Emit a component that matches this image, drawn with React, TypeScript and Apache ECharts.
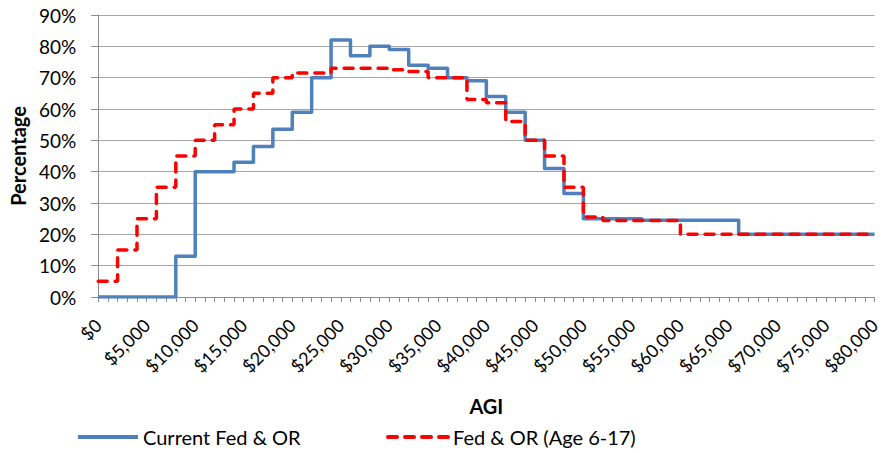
import React, { useEffect, useRef } from "react";
import * as echarts from "echarts";

const currentSteps: [number, number][] = [
  [0, 0], [8000, 13], [10000, 40], [14000, 43], [16000, 48], [18000, 53.5],
  [20000, 59], [22000, 70], [24000, 82], [26000, 77], [28000, 80], [30000, 79],
  [32000, 74], [34000, 73], [36000, 70], [38000, 69], [40000, 64], [42000, 59],
  [44000, 50], [46000, 41], [48000, 33], [50000, 25], [56000, 24.5], [66000, 20],
  [80000, 20],
];

const proposedSteps: [number, number][] = [
  [0, 5], [2000, 15], [4000, 25], [6000, 35], [8000, 45], [10000, 50],
  [12000, 55], [14000, 60], [16000, 65], [18000, 70], [20000, 71.5], [24000, 73],
  [30000, 72.5], [32000, 72], [34000, 70], [38000, 63], [40000, 62], [42000, 56],
  [44000, 50], [46000, 45], [48000, 35], [50000, 25.5], [52000, 24.4], [60000, 20],
  [80000, 20],
];

const seriesNames = ["Current Fed & OR", "Fed & OR (Age 6-17)"];
const FONT = "Lato, 'Open Sans', sans-serif";

export default function App() {
  const ref = useRef<HTMLDivElement>(null);
  useEffect(() => {
    document.body.style.margin = "0";
    if (!ref.current) return;
    const chart = echarts.init(ref.current, undefined, { renderer: "svg" });
    const legendBase = {
      top: 427,
      padding: 0,
      itemWidth: 60,
      itemHeight: 20,
      itemStyle: { opacity: 0 },
      lineStyle: { width: 4 },
      textStyle: { fontFamily: FONT, fontSize: 20, color: "#000" },
    };
    chart.setOption({
      animation: false,
      textStyle: { fontFamily: FONT },
      grid: { left: 97, right: 5, top: 15, bottom: 156, containLabel: false },
      legend: [
        { ...legendBase, data: [seriesNames[0]], left: 76 },
        { ...legendBase, data: [seriesNames[1]], left: 386 },
      ],
      xAxis: {
        type: "value",
        min: 0,
        max: 80000,
        interval: 5000,
        name: "AGI",
        nameLocation: "middle",
        nameGap: 99,
        nameTextStyle: { fontFamily: FONT, fontSize: 20, fontWeight: "bold", color: "#000" },
        axisLine: { show: true, lineStyle: { color: "#8c8c8c", width: 1 } },
        axisTick: { show: true, length: 5, lineStyle: { color: "#8c8c8c" } },
        minorTick: { show: true, splitNumber: 5, length: 5, lineStyle: { color: "#8c8c8c" } },
        splitLine: { show: false },
        axisLabel: {
          rotate: 45,
          margin: 25,
          fontFamily: FONT,
          fontSize: 18,
          color: "#000",
          formatter: (v: number) => "$" + v.toLocaleString("en-US"),
        },
      },
      yAxis: {
        type: "value",
        min: 0,
        max: 90,
        interval: 10,
        name: "Percentage",
        nameLocation: "middle",
        nameGap: 70,
        nameTextStyle: { fontFamily: FONT, fontSize: 20, fontWeight: "bold", color: "#000" },
        axisLine: { show: true, lineStyle: { color: "#8c8c8c", width: 1 } },
        axisTick: { show: true, length: 7, lineStyle: { color: "#8c8c8c" } },
        splitLine: { show: true, lineStyle: { color: "#a6a6a6", width: 1 } },
        axisLabel: {
          margin: 22,
          fontFamily: FONT,
          fontSize: 19,
          color: "#000",
          formatter: "{value}%",
        },
      },
      series: [
        {
          name: seriesNames[0],
          type: "line",
          step: "end",
          data: currentSteps,
          symbol: "none",
          showSymbol: false,
          lineStyle: { color: "#4F81BD", width: 3.5, join: "round" },
          itemStyle: { color: "#4F81BD" },
          z: 2,
        },
        {
          name: seriesNames[1],
          type: "line",
          step: "end",
          data: proposedSteps,
          symbol: "none",
          showSymbol: false,
          lineStyle: { color: "#FF0000", width: 3.5, type: [9, 8], cap: "round" },
          itemStyle: { color: "#FF0000" },
          z: 3,
        },
      ],
    });
    return () => chart.dispose();
  }, []);
  return <div ref={ref} style={{ width: 883, height: 453 }} />;
}
